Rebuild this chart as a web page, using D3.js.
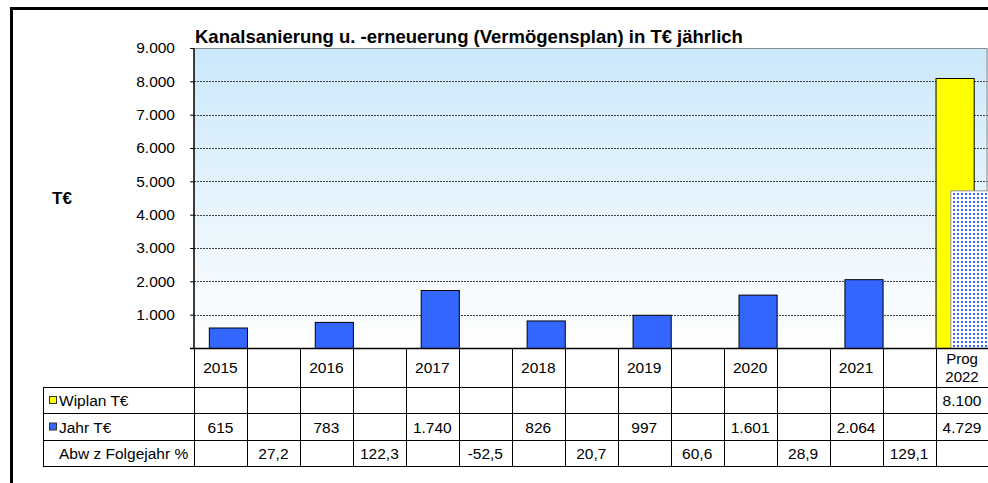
<!DOCTYPE html>
<html>
<head>
<meta charset="utf-8">
<script src="https://cdn.jsdelivr.net/npm/d3@7"></script>
<style>
  body { margin: 0; background: #fff; }
  svg { font-family: "Liberation Sans", Arial, sans-serif; }
</style>
</head>
<body>
<div class="chart"></div>
<script>
var categories = ["2015", "", "2016", "", "2017", "", "2018", "", "2019", "", "2020", "", "2021", "", "Prog 2022"];
var wiplan = [null, null, null, null, null, null, null, null, null, null, null, null, null, null, 8100];
var jahr = [615, null, 783, null, 1740, null, 826, null, 997, null, 1601, null, 2064, null, 4729];
var abw = [null, 27.2, null, 122.3, null, -52.5, null, 20.7, null, 60.6, null, 28.9, null, 129.1, null];
var yTicks = [1000, 2000, 3000, 4000, 5000, 6000, 7000, 8000, 9000];
var rowLabels = ["Wiplan T€", "Jahr T€", "Abw z Folgejahr %"];

var width = 988, height = 483;
var plot = {left: 194, right: 988.5, top: 48, bottom: 348};
var fs = "15.5px";

var de = d3.formatLocale({decimal: ",", thousands: ".", grouping: [3], currency: ["", "€"], minus: "-"});
var fmtInt = de.format(",d");
var fmtPct = de.format(",.1f");

var svg = d3.select(".chart").append("svg")
    .attr("width", width)
    .attr("height", height);

var defs = svg.append("defs");
var grad = defs.append("linearGradient")
    .attr("id", "bg").attr("x1", 0).attr("y1", 0).attr("x2", 0).attr("y2", 1);
grad.append("stop").attr("offset", "0%").attr("stop-color", "#cbe8fb");
grad.append("stop").attr("offset", "100%").attr("stop-color", "#ffffff");

var pat = defs.append("pattern")
    .attr("id", "dots").attr("width", 4).attr("height", 4)
    .attr("patternUnits", "userSpaceOnUse");
pat.append("rect").attr("width", 4).attr("height", 4).attr("fill", "#fff");
pat.append("rect").attr("x", 1).attr("y", 1).attr("width", 2).attr("height", 2).attr("fill", "#3366ff");

// outer frame (runs past the picture on right and bottom)
svg.append("rect")
    .attr("x", 11.5).attr("y", 8.5)
    .attr("width", 1000).attr("height", 500)
    .attr("fill", "none").attr("stroke", "#000").attr("stroke-width", 3);

var x = d3.scaleBand()
    .domain(d3.range(categories.length))
    .range([plot.left, plot.right])
    .paddingInner(0).paddingOuter(0);

var y = d3.scaleLinear()
    .domain([0, 9000])
    .range([plot.bottom, plot.top]);

var bw = x.bandwidth();
var barW = bw * 0.72;

// plot background
svg.append("rect")
    .attr("x", plot.left).attr("y", plot.top)
    .attr("width", plot.right - plot.left).attr("height", plot.bottom - plot.top)
    .attr("fill", "url(#bg)");

// gridlines
svg.append("g").selectAll("line")
    .data(yTicks.slice(0, -1))
  .enter().append("line")
    .attr("x1", plot.left).attr("x2", plot.right)
    .attr("y1", function(d) { return Math.round(y(d)) + 0.5; })
    .attr("y2", function(d) { return Math.round(y(d)) + 0.5; })
    .attr("stroke", "#404040")
    .attr("stroke-dasharray", "2,1");

// plot border top / right
svg.append("path")
    .attr("d", "M" + plot.left + "," + (plot.top + 0.5) + "H" + (plot.right - 1.5) + "V" + plot.bottom)
    .attr("fill", "none").attr("stroke", "#8c8c8c");

// Wiplan bars
svg.append("g").selectAll("rect")
    .data(wiplan.map(function(v, i) { return {i: i, v: v}; }).filter(function(d) { return d.v != null; }))
  .enter().append("rect")
    .attr("x", function(d) { return x(d.i) + 0.5; })
    .attr("y", function(d) { return y(d.v) + 0.5; })
    .attr("width", barW)
    .attr("height", function(d) { return y(0) - y(d.v); })
    .attr("fill", "#ffff00")
    .attr("stroke", "#000");

// Jahr bars (forecast column dotted)
svg.append("g").selectAll("rect")
    .data(jahr.map(function(v, i) { return {i: i, v: v}; }).filter(function(d) { return d.v != null; }))
  .enter().append("rect")
    .attr("x", function(d) { return x(d.i) + bw - barW + 0.5; })
    .attr("y", function(d) { return y(d.v) + 0.5; })
    .attr("width", barW)
    .attr("height", function(d) { return y(0) - y(d.v); })
    .attr("fill", function(d) { return categories[d.i].indexOf("Prog") === 0 ? "url(#dots)" : "#3366ff"; })
    .attr("stroke", function(d) { return categories[d.i].indexOf("Prog") === 0 ? "#999" : "#000"; });

// y axis
var yAxis = d3.axisLeft(y)
    .tickValues(yTicks)
    .tickSize(4)
    .tickFormat(fmtInt);

var ya = svg.append("g")
    .attr("transform", "translate(" + plot.left + ",0)")
    .call(yAxis);
ya.select(".domain").remove();
ya.selectAll("line").attr("stroke", "#000");
ya.selectAll("text")
    .attr("x", -19)
    .attr("font-size", fs)
    .attr("fill", "#000")
    .attr("font-family", "Liberation Sans, Arial, sans-serif");
ya.append("line")
    .attr("x1", 0).attr("x2", 0).attr("y1", plot.top).attr("y2", plot.bottom)
    .attr("stroke", "#000").attr("stroke-width", 1.5);

// axis baseline
svg.append("line")
    .attr("x1", plot.left - 4).attr("x2", plot.right)
    .attr("y1", plot.bottom + 0.5).attr("y2", plot.bottom + 0.5)
    .attr("stroke", "#000").attr("stroke-width", 1.5);

// title and y label
svg.append("text")
    .attr("x", 195).attr("y", 42.5)
    .attr("font-size", "18.5px").attr("font-weight", "bold")
    .text("Kanalsanierung u. -erneuerung (Vermögensplan) in T€ jährlich");

svg.append("text")
    .attr("x", 52).attr("y", 204)
    .attr("font-size", "17px").attr("font-weight", "bold")
    .text("T€");

// data table
var rowH = [348, 387, 413, 440, 466];
var labelLeft = 43;
var table = svg.append("g").attr("stroke", "#000").attr("stroke-width", 1);

rowH.slice(1).forEach(function(yy) {
  table.append("line")
      .attr("x1", labelLeft).attr("x2", plot.right + 5)
      .attr("y1", yy + 0.5).attr("y2", yy + 0.5);
});
table.append("line")
    .attr("x1", labelLeft + 0.5).attr("x2", labelLeft + 0.5)
    .attr("y1", rowH[1]).attr("y2", rowH[4] + 0.5);
d3.range(categories.length).forEach(function(i) {
  table.append("line")
      .attr("x1", Math.round(x(i)) + 0.5).attr("x2", Math.round(x(i)) + 0.5)
      .attr("y1", plot.bottom).attr("y2", rowH[4] + 0.5);
});

// category header
var hdr = svg.append("g").attr("font-size", fs).attr("text-anchor", "middle");
categories.forEach(function(c, i) {
  if (!c) return;
  var parts = c.split(" ");
  var cx = x(i) + bw / 2;
  if (parts.length === 1) {
    hdr.append("text").attr("x", cx).attr("y", 368).attr("dy", "0.35em").text(c);
  } else {
    hdr.append("text").attr("x", cx).attr("y", 364).attr("font-size", "15px").text(parts[0]);
    hdr.append("text").attr("x", cx).attr("y", 381.5).attr("font-size", "15px").text(parts[1]);
  }
});

// table rows
var series = [wiplan, jahr, abw];
var formats = [fmtInt, fmtInt, fmtPct];
var cells = svg.append("g").attr("font-size", fs).attr("text-anchor", "middle");
series.forEach(function(vals, r) {
  var cy = (rowH[r + 1] + rowH[r + 2]) / 2 + 1;
  vals.forEach(function(v, i) {
    if (v == null) return;
    cells.append("text")
        .attr("x", x(i) + bw / 2)
        .attr("y", cy)
        .attr("dy", "0.35em")
        .text(formats[r](v));
  });
});

// row labels with legend keys
var keyColors = ["#ffff00", "#3366ff", null];
rowLabels.forEach(function(lbl, r) {
  var cy = (rowH[r + 1] + rowH[r + 2]) / 2 + 1;
  if (keyColors[r]) {
    svg.append("rect")
        .attr("x", 49.5).attr("y", cy - 4.5)
        .attr("width", 7).attr("height", 7)
        .attr("fill", keyColors[r]).attr("stroke", "#333");
  }
  svg.append("text")
      .attr("x", 59).attr("y", cy)
      .attr("dy", "0.35em")
      .attr("font-size", fs)
      .text(lbl);
});
</script>
</body>
</html>
